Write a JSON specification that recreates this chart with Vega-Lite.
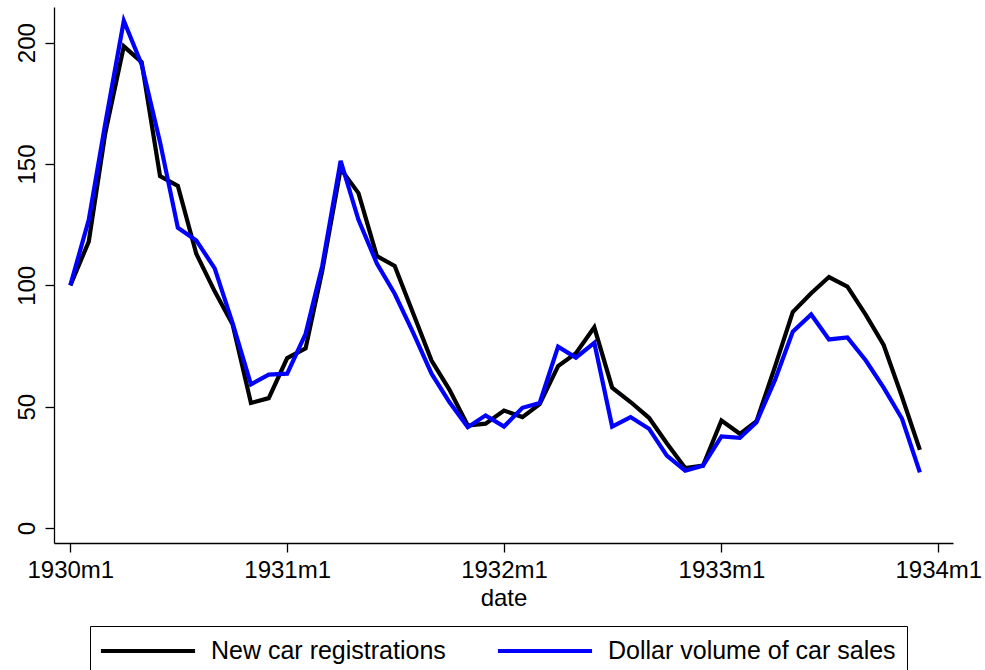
{
  "$schema": "https://vega.github.io/schema/vega-lite/v6.json",
  "autosize": "none",
  "width": 899,
  "height": 536,
  "padding": {"left": 54, "top": 7, "right": 32, "bottom": 127},
  "background": "white",
  "data": {
    "values": [
      {"date": "1930-01-01", "series": "New car registrations", "value": 100},
      {"date": "1930-02-01", "series": "New car registrations", "value": 118},
      {"date": "1930-03-01", "series": "New car registrations", "value": 163},
      {"date": "1930-04-01", "series": "New car registrations", "value": 198.5},
      {"date": "1930-05-01", "series": "New car registrations", "value": 192},
      {"date": "1930-06-01", "series": "New car registrations", "value": 145},
      {"date": "1930-07-01", "series": "New car registrations", "value": 141},
      {"date": "1930-08-01", "series": "New car registrations", "value": 113},
      {"date": "1930-09-01", "series": "New car registrations", "value": 97.5},
      {"date": "1930-10-01", "series": "New car registrations", "value": 84},
      {"date": "1930-11-01", "series": "New car registrations", "value": 51.5},
      {"date": "1930-12-01", "series": "New car registrations", "value": 53.5},
      {"date": "1931-01-01", "series": "New car registrations", "value": 70},
      {"date": "1931-02-01", "series": "New car registrations", "value": 74},
      {"date": "1931-03-01", "series": "New car registrations", "value": 106},
      {"date": "1931-04-01", "series": "New car registrations", "value": 148},
      {"date": "1931-05-01", "series": "New car registrations", "value": 138},
      {"date": "1931-06-01", "series": "New car registrations", "value": 112},
      {"date": "1931-07-01", "series": "New car registrations", "value": 108},
      {"date": "1931-08-01", "series": "New car registrations", "value": 88.5},
      {"date": "1931-09-01", "series": "New car registrations", "value": 69},
      {"date": "1931-10-01", "series": "New car registrations", "value": 57},
      {"date": "1931-11-01", "series": "New car registrations", "value": 42.2},
      {"date": "1931-12-01", "series": "New car registrations", "value": 43},
      {"date": "1932-01-01", "series": "New car registrations", "value": 48.4},
      {"date": "1932-02-01", "series": "New car registrations", "value": 45.7},
      {"date": "1932-03-01", "series": "New car registrations", "value": 51},
      {"date": "1932-04-01", "series": "New car registrations", "value": 66.7},
      {"date": "1932-05-01", "series": "New car registrations", "value": 72},
      {"date": "1932-06-01", "series": "New car registrations", "value": 82.7},
      {"date": "1932-07-01", "series": "New car registrations", "value": 57.8},
      {"date": "1932-08-01", "series": "New car registrations", "value": 51.9},
      {"date": "1932-09-01", "series": "New car registrations", "value": 45.4},
      {"date": "1932-10-01", "series": "New car registrations", "value": 34.9},
      {"date": "1932-11-01", "series": "New car registrations", "value": 24.7},
      {"date": "1932-12-01", "series": "New car registrations", "value": 25.7},
      {"date": "1933-01-01", "series": "New car registrations", "value": 44.3},
      {"date": "1933-02-01", "series": "New car registrations", "value": 38.8},
      {"date": "1933-03-01", "series": "New car registrations", "value": 44},
      {"date": "1933-04-01", "series": "New car registrations", "value": 66.4},
      {"date": "1933-05-01", "series": "New car registrations", "value": 89},
      {"date": "1933-06-01", "series": "New car registrations", "value": 96.7},
      {"date": "1933-07-01", "series": "New car registrations", "value": 103.4},
      {"date": "1933-08-01", "series": "New car registrations", "value": 99.5},
      {"date": "1933-09-01", "series": "New car registrations", "value": 87.8},
      {"date": "1933-10-01", "series": "New car registrations", "value": 75.4},
      {"date": "1933-11-01", "series": "New car registrations", "value": 54},
      {"date": "1933-12-01", "series": "New car registrations", "value": 32.2},
      {"date": "1930-01-01", "series": "Dollar volume of car sales", "value": 100},
      {"date": "1930-02-01", "series": "Dollar volume of car sales", "value": 127},
      {"date": "1930-03-01", "series": "Dollar volume of car sales", "value": 167},
      {"date": "1930-04-01", "series": "Dollar volume of car sales", "value": 209},
      {"date": "1930-05-01", "series": "Dollar volume of car sales", "value": 191},
      {"date": "1930-06-01", "series": "Dollar volume of car sales", "value": 159},
      {"date": "1930-07-01", "series": "Dollar volume of car sales", "value": 123.7},
      {"date": "1930-08-01", "series": "Dollar volume of car sales", "value": 118.5},
      {"date": "1930-09-01", "series": "Dollar volume of car sales", "value": 107},
      {"date": "1930-10-01", "series": "Dollar volume of car sales", "value": 84.5},
      {"date": "1930-11-01", "series": "Dollar volume of car sales", "value": 59.2},
      {"date": "1930-12-01", "series": "Dollar volume of car sales", "value": 63.2},
      {"date": "1931-01-01", "series": "Dollar volume of car sales", "value": 63.6},
      {"date": "1931-02-01", "series": "Dollar volume of car sales", "value": 80},
      {"date": "1931-03-01", "series": "Dollar volume of car sales", "value": 108},
      {"date": "1931-04-01", "series": "Dollar volume of car sales", "value": 151.3},
      {"date": "1931-05-01", "series": "Dollar volume of car sales", "value": 127},
      {"date": "1931-06-01", "series": "Dollar volume of car sales", "value": 109},
      {"date": "1931-07-01", "series": "Dollar volume of car sales", "value": 96.5},
      {"date": "1931-08-01", "series": "Dollar volume of car sales", "value": 80.5},
      {"date": "1931-09-01", "series": "Dollar volume of car sales", "value": 63.6},
      {"date": "1931-10-01", "series": "Dollar volume of car sales", "value": 51.9},
      {"date": "1931-11-01", "series": "Dollar volume of car sales", "value": 41.5},
      {"date": "1931-12-01", "series": "Dollar volume of car sales", "value": 46.4},
      {"date": "1932-01-01", "series": "Dollar volume of car sales", "value": 41.8},
      {"date": "1932-02-01", "series": "Dollar volume of car sales", "value": 49.5},
      {"date": "1932-03-01", "series": "Dollar volume of car sales", "value": 51.5},
      {"date": "1932-04-01", "series": "Dollar volume of car sales", "value": 74.7},
      {"date": "1932-05-01", "series": "Dollar volume of car sales", "value": 70.2},
      {"date": "1932-06-01", "series": "Dollar volume of car sales", "value": 76.3},
      {"date": "1932-07-01", "series": "Dollar volume of car sales", "value": 41.8},
      {"date": "1932-08-01", "series": "Dollar volume of car sales", "value": 45.7},
      {"date": "1932-09-01", "series": "Dollar volume of car sales", "value": 40.9},
      {"date": "1932-10-01", "series": "Dollar volume of car sales", "value": 29.8},
      {"date": "1932-11-01", "series": "Dollar volume of car sales", "value": 23.6},
      {"date": "1932-12-01", "series": "Dollar volume of car sales", "value": 25.7},
      {"date": "1933-01-01", "series": "Dollar volume of car sales", "value": 37.7},
      {"date": "1933-02-01", "series": "Dollar volume of car sales", "value": 37.1},
      {"date": "1933-03-01", "series": "Dollar volume of car sales", "value": 43.6},
      {"date": "1933-04-01", "series": "Dollar volume of car sales", "value": 60.9},
      {"date": "1933-05-01", "series": "Dollar volume of car sales", "value": 80.9},
      {"date": "1933-06-01", "series": "Dollar volume of car sales", "value": 88},
      {"date": "1933-07-01", "series": "Dollar volume of car sales", "value": 77.7},
      {"date": "1933-08-01", "series": "Dollar volume of car sales", "value": 78.5},
      {"date": "1933-09-01", "series": "Dollar volume of car sales", "value": 69},
      {"date": "1933-10-01", "series": "Dollar volume of car sales", "value": 57.8},
      {"date": "1933-11-01", "series": "Dollar volume of car sales", "value": 45},
      {"date": "1933-12-01", "series": "Dollar volume of car sales", "value": 22.9}
    ]
  },
  "mark": {"type": "line", "strokeWidth": 4.2, "strokeJoin": "miter", "strokeCap": "butt"},
  "encoding": {
    "x": {
      "field": "date",
      "type": "temporal",
      "scale": {
        "type": "utc",
        "nice": false,
        "domain": [
          {"year": 1929, "month": 12, "date": 4, "hours": 12, "utc": true},
          {"year": 1934, "month": 1, "date": 25, "hours": 18, "utc": true}
        ]
      },
      "axis": {
        "title": "date",
        "values": [
          {"year": 1930, "month": 1, "date": 1, "utc": true},
          {"year": 1931, "month": 1, "date": 1, "utc": true},
          {"year": 1932, "month": 1, "date": 1, "utc": true},
          {"year": 1933, "month": 1, "date": 1, "utc": true},
          {"year": 1934, "month": 1, "date": 1, "utc": true}
        ],
        "labelExpr": "utcFormat(datum.value, '%Y') + 'm' + (utcmonth(datum.value) + 1)",
        "labelPadding": 6,
        "titlePadding": 4,
        "labelOverlap": false,
        "labelFlush": false
      }
    },
    "y": {
      "field": "value",
      "type": "quantitative",
      "scale": {"domain": [-6.2, 214.7], "nice": false, "zero": false},
      "axis": {
        "title": null,
        "values": [0, 50, 100, 150, 200],
        "labelAngle": -90,
        "labelAlign": "center",
        "labelBaseline": "bottom",
        "labelPadding": 6
      }
    },
    "color": {
      "field": "series",
      "type": "nominal",
      "scale": {
        "domain": ["New car registrations", "Dollar volume of car sales"],
        "range": ["#000000", "#0000ff"]
      },
      "legend": {
        "title": null,
        "orient": "none",
        "legendX": 36,
        "legendY": 619,
        "direction": "horizontal",
        "columns": 2,
        "symbolType": "M-3.92,0H3.92",
        "symbolSize": 576,
        "symbolStrokeWidth": 4,
        "symbolOffset": 33,
        "labelFont": "Liberation Sans",
        "labelFontSize": 25,
        "labelColor": "#000000",
        "labelOffset": 49,
        "labelLimit": 0,
        "columnPadding": 43,
        "padding": 11,
        "strokeColor": "#000000",
        "cornerRadius": 0
      }
    }
  },
  "config": {
    "view": {"stroke": null},
    "axis": {
      "grid": false,
      "domainColor": "#000000",
      "domainWidth": 1.3,
      "tickColor": "#000000",
      "tickWidth": 1.3,
      "tickSize": 9,
      "labelFont": "Liberation Sans",
      "labelFontSize": 24,
      "labelColor": "#000000",
      "titleFont": "Liberation Sans",
      "titleFontSize": 24,
      "titleFontWeight": "normal",
      "titleColor": "#000000"
    }
  }
}
